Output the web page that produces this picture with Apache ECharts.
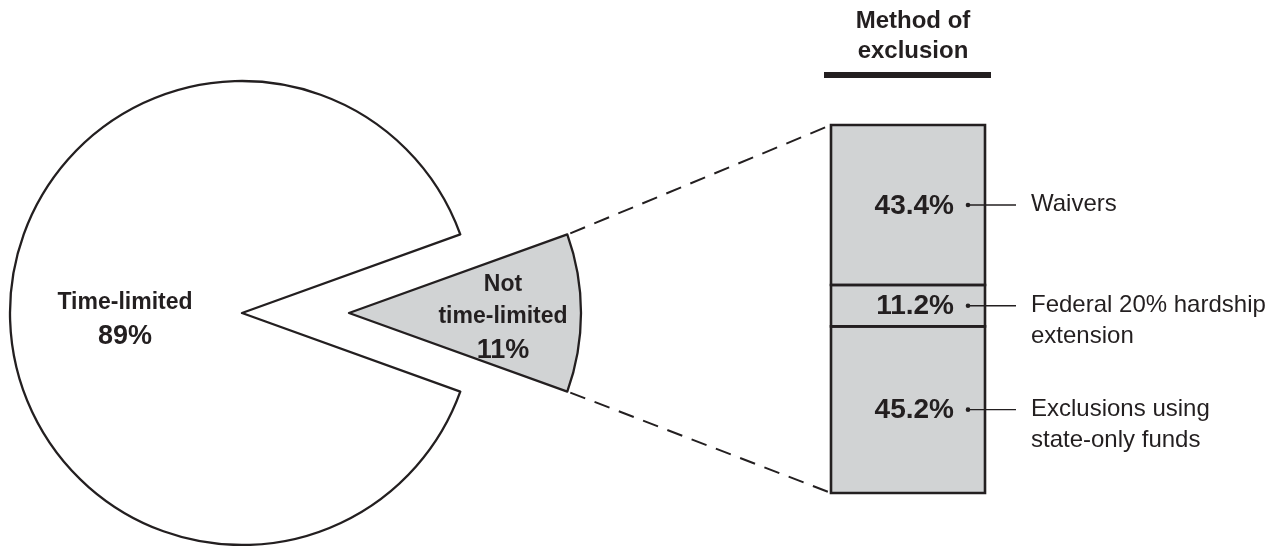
<!DOCTYPE html>
<html>
<head>
<meta charset="utf-8">
<script src="https://cdn.jsdelivr.net/npm/echarts@6/dist/echarts.min.js"></script>
<style>
html,body{margin:0;padding:0;background:#fff;}
#chart{width:1266px;height:546px;}
</style>
</head>
<body>
<div id="chart"></div>
<script>
// ---- data ----
const pieNames = ['Not\ntime-limited', 'Time-limited'];
const pieValues = [11, 89];
const barTitle = 'Method of\nexclusion';
const barCategory = ['Method of exclusion'];
const segNames = ['Waivers', 'Federal 20% hardship\nextension', 'Exclusions using\nstate-only funds'];
const segValues = [43.4, 11.2, 45.2];

// ---- style ----
const INK = '#231f20';
const GRAY = '#d1d3d4';
const FONT = '"Liberation Sans", Arial, Helvetica, sans-serif';
const PIE_CX = 242, PIE_CY = 313, PIE_R = 232, PIE_OFF = 107;
const GRID = {left: 831, top: 125, width: 154, height: 368};

const pieTotal = pieValues.reduce((a, b) => a + b, 0);
const halfAngle = pieValues[0] / pieTotal * 180; // first slice centred on 0°
const segTotal = segValues.reduce((a, b) => a + b, 0);

const pieData = pieNames.map((n, i) => ({
  name: n,
  value: pieValues[i],
  selected: i === 0,
  itemStyle: {color: i === 0 ? GRAY : '#ffffff'}
}));

const barSeries = segValues.map((v, i) => ({
  type: 'bar',
  name: segNames[i].replace('\n', ' '),
  stack: 'total',
  barWidth: '100%',
  data: [v],
  silent: true,
  itemStyle: {color: GRAY, borderWidth: 0},
  emphasis: {disabled: true}
}));

// annotation points: each stacked segment (start, end)
let acc = 0;
const annData = segValues.map((v, i) => {
  const start = acc;
  acc += v;
  return [0, start, acc, i];
});

const chart = echarts.init(document.getElementById('chart'), null, {renderer: 'canvas'});

const option = {
  animation: false,
  backgroundColor: '#ffffff',
  textStyle: {fontFamily: FONT, color: INK},
  title: {
    text: barTitle,
    left: GRID.left + GRID.width / 2,
    top: 1,
    textAlign: 'center',
    textStyle: {fontFamily: FONT, fontSize: 24, fontWeight: 'bold', color: INK, lineHeight: 30}
  },
  grid: {left: GRID.left, top: GRID.top, width: GRID.width, height: GRID.height, containLabel: false},
  xAxis: {type: 'category', data: barCategory, show: false},
  yAxis: {type: 'value', min: 0, max: segTotal, inverse: true, show: false},
  series: [
    {
      type: 'pie',
      center: [PIE_CX, PIE_CY],
      radius: PIE_R,
      startAngle: halfAngle,
      clockwise: true,
      selectedMode: 'single',
      selectedOffset: PIE_OFF,
      avoidLabelOverlap: false,
      silent: true,
      data: pieData,
      itemStyle: {borderColor: INK, borderWidth: 2.3},
      emphasis: {disabled: true, scale: false},
      select: {itemStyle: {color: GRAY, borderColor: INK, borderWidth: 2.3}, label: {show: true}},
      label: {
        show: true,
        position: 'inside',
        color: INK,
        formatter: p => '{n|' + p.name + '}\n{v|' + p.value + '%}',
        rich: {
          n: {fontFamily: FONT, fontSize: 23, fontWeight: 'bold', color: INK, lineHeight: 32, align: 'center'},
          v: {fontFamily: FONT, fontSize: 27, fontWeight: 'bold', color: INK, lineHeight: 36, align: 'center'}
        }
      },
      labelLine: {show: false},
      labelLayout: function (params) {
        if (params.dataIndex === 0) return {dx: 35, dy: 6};
        return {dx: 1, dy: 4};
      }
    },
    ...barSeries,
    {
      type: 'custom',
      clip: false,
      silent: true,
      data: annData,
      encode: {x: 0, y: [1, 2]},
      z: 10,
      renderItem: function (params, api) {
        const idx = api.value(3);
        const p0 = api.coord([api.value(0), api.value(1)]);
        const p1 = api.coord([api.value(0), api.value(2)]);
        const left = params.coordSys.x;
        const right = params.coordSys.x + params.coordSys.width;
        const y = (p0[1] + p1[1]) / 2;
        return {
          type: 'group',
          children: [
            {type: 'rect', shape: {x: left, y: p0[1], width: right - left, height: p1[1] - p0[1]},
              style: {fill: null, stroke: INK, lineWidth: 2.6}},
            {type: 'text', style: {text: segValues[idx].toFixed(1) + '%', x: right - 31, y: y + 1,
              align: 'right', verticalAlign: 'middle', fontFamily: FONT, fontSize: 28, fontWeight: 'bold', fill: INK}},
            {type: 'circle', shape: {cx: right - 17, cy: y, r: 2.3}, style: {fill: INK}},
            {type: 'line', shape: {x1: right - 17, y1: y, x2: right + 31, y2: y}, style: {stroke: INK, lineWidth: 1.4}},
            {type: 'text', style: {text: segNames[idx], x: right + 46, y: y - 16,
              align: 'left', verticalAlign: 'top', fontFamily: FONT, fontSize: 24, fill: INK, lineHeight: 31}}
          ]
        };
      }
    }
  ]
};

chart.setOption(option);

// dashed connectors from exploded slice corners to the stacked bar's left corners
const rad = halfAngle * Math.PI / 180;
const sx = PIE_CX + PIE_OFF + PIE_R * Math.cos(rad);
const syTop = PIE_CY - PIE_R * Math.sin(rad);
const syBot = PIE_CY + PIE_R * Math.sin(rad);
const barTop = chart.convertToPixel({gridIndex: 0}, [0, 0]);
const barBot = chart.convertToPixel({gridIndex: 0}, [0, segTotal]);
const bx = GRID.left;
chart.setOption({
  graphic: [
    {type: 'line', shape: {x1: sx + 3, y1: syTop - 1, x2: bx, y2: barTop[1]},
      style: {stroke: INK, lineWidth: 2, lineDash: [16, 10]}, z: 5},
    {type: 'line', shape: {x1: sx + 3, y1: syBot + 1, x2: bx, y2: barBot[1]},
      style: {stroke: INK, lineWidth: 2, lineDash: [16, 10]}, z: 5},
    {type: 'rect', shape: {x: 824, y: 72, width: 167, height: 6}, style: {fill: INK}, z: 5}
  ]
});
</script>
</body>
</html>
